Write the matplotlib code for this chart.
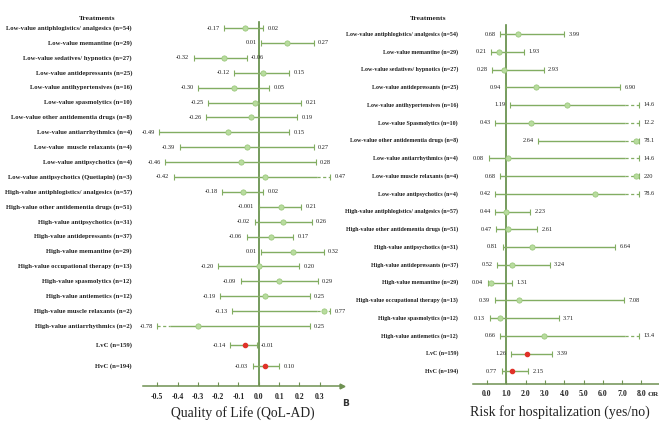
import matplotlib
matplotlib.use("Agg")
import matplotlib.pyplot as plt
import matplotlib.transforms as mtransforms

# ---------------- data ----------------
qol_treatments = [
    "Low-value antiphlogistics/ analgesics (n=54)",
    "Low-value memantine (n=29)",
    "Low-value sedatives/ hypnotics (n=27)",
    "Low-value antidepressants (n=25)",
    "Low-value antihypertensives (n=16)",
    "Low-value spasmolytics (n=10)",
    "Low-value other antidementia drugs (n=8)",
    "Low-value antiarrhythmics (n=4)",
    "Low-value  muscle relaxants (n=4)",
    "Low-value antipsychotics (n=4)",
    "Low-value antipsychotics (Quetiapin) (n=3)",
    "High-value antiphlogistics/ analgesics (n=57)",
    "High-value other antidementia drugs (n=51)",
    "High-value antipsychotics (n=31)",
    "High-value antidepressants (n=37)",
    "High-value memantine (n=29)",
    "High-value occupational therapy (n=13)",
    "High-value spasmolytics (n=12)",
    "High-value antiemetics (n=12)",
    "High-value muscle relaxants (n=2)",
    "High-value antiarrhythmics (n=2)",
    "LvC (n=159)",
    "HvC (n=194)",
]
qol_est = [-0.07, 0.14, -0.17, 0.02, -0.12, -0.02, -0.04, -0.15, -0.06, -0.09, 0.03,
           -0.08, 0.11, 0.12, 0.06, 0.17, 0.00, 0.10, 0.03, 0.32, -0.30, -0.07, 0.03]
qol_lower = [-0.17, 0.01, -0.32, -0.12, -0.30, -0.25, -0.26, -0.49, -0.39, -0.46, -0.42,
             -0.18, -0.001, -0.02, -0.06, 0.01, -0.20, -0.09, -0.19, -0.13, -0.78, -0.14, -0.03]
qol_upper = [0.02, 0.27, -0.06, 0.15, 0.05, 0.21, 0.19, 0.15, 0.27, 0.28, 0.47,
             0.02, 0.21, 0.26, 0.17, 0.32, 0.20, 0.29, 0.25, 0.77, 0.25, -0.01, 0.10]
qol_ticks = [-0.5, -0.4, -0.3, -0.2, -0.1, 0.0, 0.1, 0.2, 0.3]

hosp_treatments = [
    "Low-value antiphlogistics/ analgesics (n=54)",
    "Low-value memantine (n=29)",
    "Low-value sedatives/ hypnotics (n=27)",
    "Low-value antidepressants (n=25)",
    "Low-value antihypertensives (n=16)",
    "Low-value Spasmolytics (n=10)",
    "Low-value other antidementia drugs (n=8)",
    "Low-value antiarrhythmics (n=4)",
    "Low-value muscle relaxants (n=4)",
    "Low-value antipsychotics (n=4)",
    "High-value antiphlogistics/ analgesics (n=57)",
    "High-value other antidementia drugs (n=51)",
    "High-value antipsychotics (n=31)",
    "High-value antidepressants (n=37)",
    "High-value memantine (n=29)",
    "High-value occupational therapy (n=13)",
    "High-value spasmolytics (n=12)",
    "High-value antiemetics (n=12)",
    "LvC (n=159)",
    "HvC (n=194)",
]
hosp_est = [1.6, 0.64, 0.9, 2.55, 4.17, 2.29, 14.4, 1.1, 12.4, 5.6,
            0.99, 1.1, 2.32, 1.3, 0.23, 1.66, 0.69, 2.97, 2.07, 1.29]
hosp_lower = [0.68, 0.21, 0.28, 0.94, 1.19, 0.43, 2.64, 0.08, 0.68, 0.42,
              0.44, 0.47, 0.81, 0.52, 0.04, 0.39, 0.13, 0.66, 1.26, 0.77]
hosp_upper = [3.99, 1.93, 2.93, 6.90, 14.6, 12.2, 78.1, 14.6, 220, 78.6,
              2.23, 2.61, 6.64, 3.24, 1.31, 7.08, 3.71, 13.4, 3.39, 2.15]
hosp_ticks = [0.0, 1.0, 2.0, 3.0, 4.0, 5.0, 6.0, 7.0, 8.0]

# ---------------- style ----------------
W, H = 659, 422
SERIF = ["Liberation Serif", "DejaVu Serif"]
CI_COLOR = "#82ad62"
PT_FACE = "#b8dc9e"
PT_EDGE = "#95c476"
RED = "#e03228"
REF_COLOR = "#5f8a42"
AXIS_COLOR = "#6f9152"
TXT = "#222222"

fig = plt.figure(figsize=(W / 100, H / 100), dpi=100)
fig.patch.set_facecolor("white")


def px_axes(x0, x1, y_top, y_bottom):
    """Axes placed by pixel edges; the y data unit is one pixel row."""
    ax = fig.add_axes([x0 / W, 1 - y_bottom / H, (x1 - x0) / W, (y_bottom - y_top) / H])
    ax.set_ylim(y_bottom - y_top, 0)
    ax.patch.set_alpha(0)
    return ax


def fmt(v):
    if abs(v) >= 10:
        return f"{v:g}"
    s = f"{v:.2f}"
    if float(s) != v:
        s = f"{v:g}"
    return s


def forest(ax, rows_y, est, lo, hi, lo_clip, hi_clip, dash_len, red_rows):
    for i, y in enumerate(rows_y):
        a, b, m = lo[i], hi[i], est[i]
        a_d = max(a, lo_clip)
        b_d = min(b, hi_clip)
        s0, s1 = a_d, b_d
        if a < lo_clip:
            ax.plot([a_d, a_d + dash_len], [y, y], color=CI_COLOR, lw=0.9,
                    ls=(0, (2.5, 2.0)), solid_capstyle="butt")
            s0 = a_d + dash_len
        if b > hi_clip:
            ax.plot([b_d - dash_len, b_d], [y, y], color=CI_COLOR, lw=0.9,
                    ls=(0, (2.5, 2.0)), solid_capstyle="butt")
            s1 = b_d - dash_len
        ax.plot([s0, s1], [y, y], color=CI_COLOR, lw=1.0, solid_capstyle="butt")
        ax.plot([a_d, b_d], [y, y], ls="none", marker="|", ms=4.2, mew=0.8, color=CI_COLOR)
        m_d = min(max(m, lo_clip + dash_len * 0.3), hi_clip - dash_len * 0.25)
        if i in red_rows:
            ax.plot([m_d], [y], marker="o", ms=3.0, color=RED, mec=RED, zorder=5)
        else:
            ax.plot([m_d], [y], marker="o", ms=3.8, mfc=PT_FACE, mec=PT_EDGE, mew=0.5, zorder=5)
        ax.annotate(fmt(a), (a_d, y), xytext=(-3.2, 0), textcoords="offset points",
                    ha="right", va="center", fontsize=4.6, family=SERIF, color=TXT,
                    annotation_clip=False)
        ax.annotate(fmt(b), (b_d, y), xytext=(3.2, 0), textcoords="offset points",
                    ha="left", va="center", fontsize=4.6, family=SERIF, color=TXT,
                    annotation_clip=False)


def style_axis(ax, ticks, xlim, arrow=True):
    ax.set_xlim(*xlim)
    for side in ("left", "right", "top"):
        ax.spines[side].set_visible(False)
    ax.spines["bottom"].set_color(AXIS_COLOR)
    ax.spines["bottom"].set_linewidth(1.1)
    ax.set_yticks([])
    ax.set_xticks(ticks)
    ax.set_xticklabels([f"{t:.1f}" for t in ticks], family=SERIF, fontsize=5.6,
                       fontweight="bold", color=TXT)
    ax.tick_params(axis="x", direction="in", length=3, width=0.8, color=AXIS_COLOR, pad=5)
    if arrow:
        ax.plot([1.0], [0.0], marker=">", ms=3.5, color=AXIS_COLOR,
                transform=ax.transAxes, clip_on=False)


# ---------------- left panel: Quality of Life ----------------
L_AX_TOP, L_AX_BOT = 0, 386
axL = px_axes(143, 342, L_AX_TOP, L_AX_BOT)
xL = (-0.5704, 0.4099)
style_axis(axL, qol_ticks, xL)
n_left = len(qol_treatments)
slot_left = list(range(n_left - 2)) + [n_left - 2 + 0.3, n_left - 1 + 0.7]
rows_left = [28 + 14.9 * s for s in slot_left]
axL.plot([0, 0], [22, L_AX_BOT], color=REF_COLOR, lw=1.2, zorder=1)
forest(axL, rows_left, qol_est, qol_lower, qol_upper, -0.50, 0.35, 0.065,
       red_rows={n_left - 2, n_left - 1})
trL = mtransforms.blended_transform_factory(fig.transFigure, axL.transData)
for name, y in zip(qol_treatments, rows_left):
    axL.text(132 / W, y, name, transform=trL, ha="right", va="center",
             fontsize=4.75, fontweight="bold", family=SERIF, color=TXT)
fig.text(97 / W, 1 - 19 / H, "Treatments", ha="center", va="center",
         fontsize=5.4, fontweight="bold", family=SERIF, color=TXT)
fig.text(243 / W, 1 - 413 / H, "Quality of Life (QoL-AD)", ha="center", va="center",
         fontsize=9.8, family=SERIF, color=TXT)
fig.text(346 / W, 1 - 404 / H, "B", ha="center", va="center",
         fontsize=6.5, fontweight="bold", family=["DejaVu Sans"], color="#333333")

# ---------------- right panel: hospitalization ----------------
R_AX_TOP, R_AX_BOT = 0, 384
R_ZERO, R_SCALE = 487, 19.3
axR = px_axes(473, 659, R_AX_TOP, R_AX_BOT)
xR = ((473 - R_ZERO) / R_SCALE, (659 - R_ZERO) / R_SCALE)
style_axis(axR, hosp_ticks, xR, arrow=False)
axR.tick_params(axis="x", pad=4)
n_right = len(hosp_treatments)
rows_right = [34 + 17.75 * i for i in range(n_right)]
axR.plot([1, 1], [25, R_AX_BOT], color=REF_COLOR, lw=1.2, zorder=1)
forest(axR, rows_right, hosp_est, hosp_lower, hosp_upper, -1.0, 7.9, 0.75,
       red_rows={n_right - 2, n_right - 1})
trR = mtransforms.blended_transform_factory(fig.transFigure, axR.transData)
for name, y in zip(hosp_treatments, rows_right):
    axR.text(458 / W, y, name, transform=trR, ha="right", va="center",
             fontsize=4.3, fontweight="bold", family=SERIF, color=TXT)
fig.text(428 / W, 1 - 19 / H, "Treatments", ha="center", va="center",
         fontsize=5.4, fontweight="bold", family=SERIF, color=TXT)
fig.text(647.5 / W, 1 - 394 / H, "OR", ha="left", va="center",
         fontsize=5.4, fontweight="bold", family=SERIF, color=TXT)
fig.text(560 / W, 1 - 412 / H, "Risk for hospitalization (yes/no)", ha="center", va="center",
         fontsize=10, family=SERIF, color=TXT)

fig.savefig("out.png", dpi=100, facecolor="white")
